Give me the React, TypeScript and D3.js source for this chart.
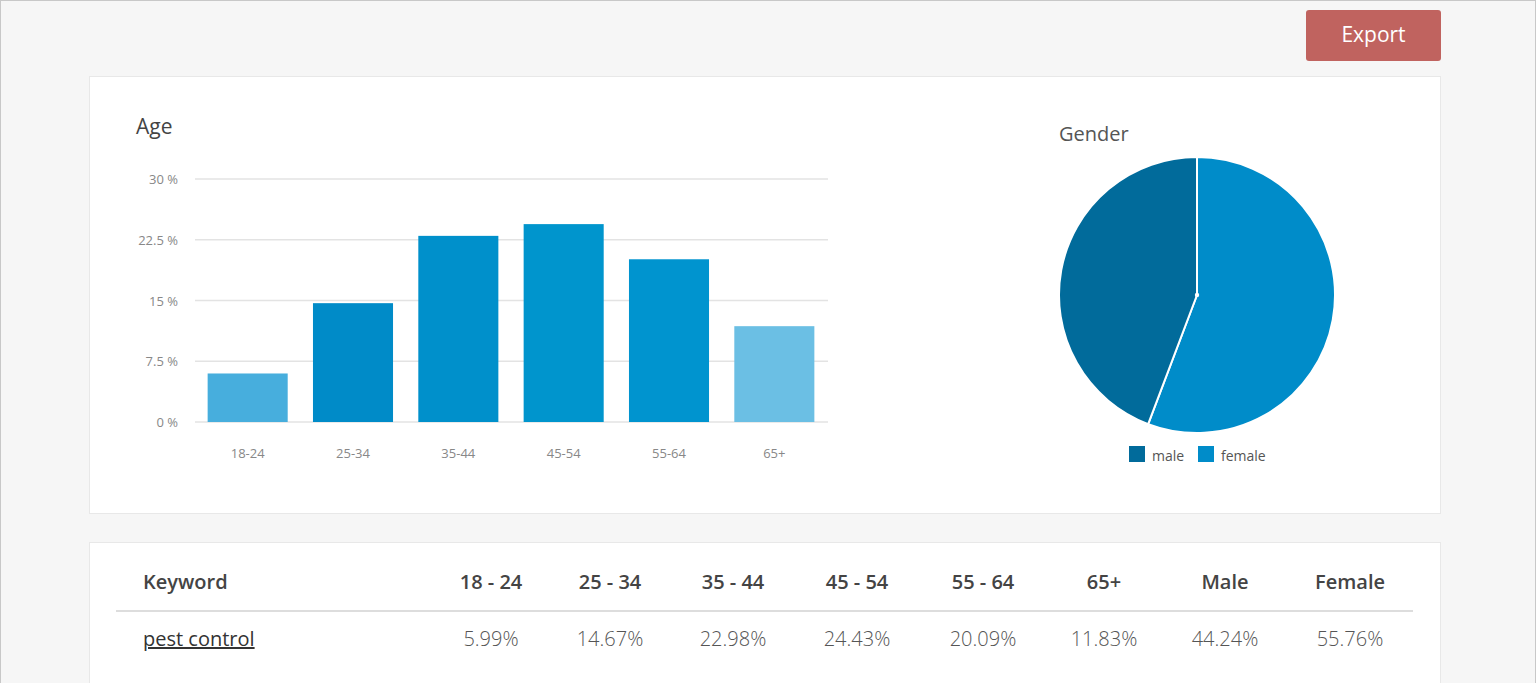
import React, { useEffect, useRef } from "react";
import * as d3 from "d3";

const ageGroups = ["18-24", "25-34", "35-44", "45-54", "55-64", "65+"];
const ageValues = [5.99, 14.67, 22.98, 24.43, 20.09, 11.83];
const ageColors = ["#47aedd", "#008bc8", "#0090cb", "#0095cd", "#0094cf", "#6bbfe4"];
const yTicks = [0, 7.5, 15, 22.5, 30];

const genderLabels = ["female", "male"];
const genderValues = [55.76, 44.24];
const genderColors: Record<string, string> = { female: "#008cc9", male: "#016b9b" };
const legendOrder = ["male", "female"];

const tableHeaders = ["Keyword", "18 - 24", "25 - 34", "35 - 44", "45 - 54", "55 - 64", "65+", "Male", "Female"];
const tableKeyword = "pest control";
const tableValues = ["5.99%", "14.67%", "22.98%", "24.43%", "20.09%", "11.83%", "44.24%", "55.76%"];

const FONT = "'Open Sans', 'Noto Sans', sans-serif";

export default function App() {
  const ref = useRef<SVGSVGElement>(null);

  useEffect(() => {
    const svg = d3.select(ref.current);
    svg.selectAll("*").remove();

    // page background
    svg.append("rect").attr("x", 0.5).attr("y", 0.5).attr("width", 1535).attr("height", 690)
      .attr("fill", "#f6f6f6").attr("stroke", "#c8c8c8");

    // Export button
    svg.append("rect").attr("x", 1306).attr("y", 10).attr("width", 135).attr("height", 51).attr("rx", 3)
      .attr("fill", "#c0635f");
    svg.append("text").attr("x", 1373.5).attr("y", 42).attr("text-anchor", "middle")
      .attr("fill", "#ffffff").attr("font-family", FONT).attr("font-size", 21).attr("font-weight", 500).text("Export");

    // cards
    svg.append("rect").attr("x", 89.5).attr("y", 76.5).attr("width", 1351).attr("height", 437)
      .attr("fill", "#ffffff").attr("stroke", "#e8e8e8");
    svg.append("rect").attr("x", 89.5).attr("y", 542.5).attr("width", 1351).attr("height", 160)
      .attr("fill", "#ffffff").attr("stroke", "#e8e8e8");

    // ---------- Age bar chart ----------
    const g = svg.append("g");
    g.append("text").attr("x", 136).attr("y", 134).attr("font-family", FONT).attr("font-size", 21)
      .attr("fill", "#444").text("Age");

    const y = d3.scaleLinear().domain([0, 30]).range([422, 179]);
    const x = d3.scaleBand<string>().domain(ageGroups).range([195, 827]).paddingInner(0.24).paddingOuter(0.12);

    const yAxis = g.append("g");
    yAxis.selectAll("line").data(yTicks).join("line")
      .attr("x1", 195).attr("x2", 828)
      .attr("y1", (d) => y(d)).attr("y2", (d) => y(d))
      .attr("stroke", "#e3e3e3").attr("stroke-width", 1.5);
    yAxis.selectAll("text").data(yTicks).join("text")
      .attr("x", 178).attr("y", (d) => y(d) + 5).attr("text-anchor", "end")
      .attr("font-family", FONT).attr("font-size", 13).attr("fill", "#888")
      .text((d) => `${d} %`);

    g.selectAll("rect.bar").data(ageValues).join("rect").attr("class", "bar")
      .attr("x", (_, i) => x(ageGroups[i])!)
      .attr("width", x.bandwidth())
      .attr("y", (d) => y(d))
      .attr("height", (d) => y(0) - y(d))
      .attr("fill", (_, i) => ageColors[i]);

    g.selectAll("text.xl").data(ageGroups).join("text").attr("class", "xl")
      .attr("x", (d) => x(d)! + x.bandwidth() / 2).attr("y", 458).attr("text-anchor", "middle")
      .attr("font-family", FONT).attr("font-size", 13).attr("fill", "#888").text((d) => d);

    // ---------- Gender pie ----------
    const pg = svg.append("g");
    pg.append("text").attr("x", 1059).attr("y", 141).attr("font-family", FONT).attr("font-size", 20)
      .attr("fill", "#555").text("Gender");

    const pie = d3.pie<number>().sort(null).value((d) => d);
    const arcs = pie(genderValues);
    const arc = d3.arc<d3.PieArcDatum<number>>().innerRadius(0).outerRadius(138);
    const pc = pg.append("g").attr("transform", "translate(1197,295)");
    pc.selectAll("path").data(arcs).join("path")
      .attr("d", arc as any)
      .attr("fill", (_, i) => genderColors[genderLabels[i]])
      .attr("stroke", "#fff").attr("stroke-width", 2).attr("stroke-linejoin", "round");
    pc.append("circle").attr("r", 2.2).attr("fill", "#fff");

    const lg = pg.append("g");
    const legendX = [1129, 1198];
    legendOrder.forEach((name, i) => {
      lg.append("rect").attr("x", legendX[i]).attr("y", 446).attr("width", 16).attr("height", 16)
        .attr("fill", genderColors[name]);
      lg.append("text").attr("x", legendX[i] + 23).attr("y", 461).attr("font-family", FONT)
        .attr("font-size", 14).attr("fill", "#555").text(name);
    });

    // ---------- Table ----------
    const tg = svg.append("g");
    const colCenters = [null, 491, 610, 733, 857, 983, 1104, 1225, 1350];
    tableHeaders.forEach((h, i) => {
      const t = tg.append("text").attr("y", 589).attr("font-family", FONT).attr("font-size", 20)
        .attr("font-weight", 600).attr("fill", "#444").text(h);
      if (i === 0) t.attr("x", 143);
      else t.attr("x", colCenters[i]!).attr("text-anchor", "middle");
    });
    tg.append("line").attr("x1", 116).attr("x2", 1413).attr("y1", 611).attr("y2", 611)
      .attr("stroke", "#dddddd").attr("stroke-width", 2);
    tg.append("text").attr("x", 143).attr("y", 646).attr("font-family", FONT).attr("font-size", 20)
      .attr("fill", "#333").attr("text-decoration", "underline").text(tableKeyword);
    tableValues.forEach((v, i) => {
      tg.append("text").attr("x", colCenters[i + 1]!).attr("y", 646).attr("text-anchor", "middle")
        .attr("font-family", FONT).attr("font-size", 20).attr("font-weight", 300)
        .attr("fill", "#555").text(v);
    });
  }, []);

  return (
    <svg ref={ref} width={1536} height={683}
      style={{ position: "absolute", left: 0, top: 0, display: "block" }} />
  );
}
